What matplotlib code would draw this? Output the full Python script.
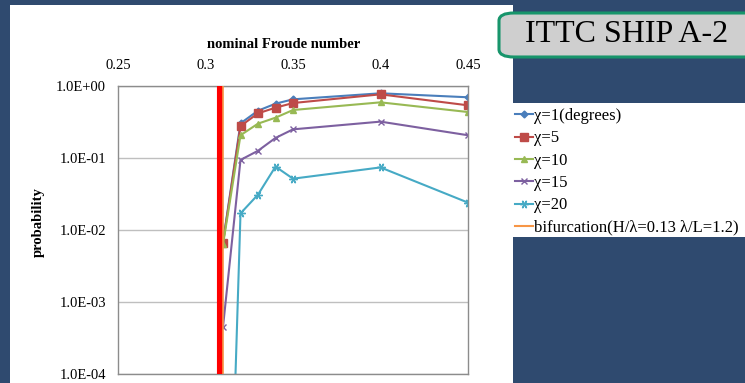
import matplotlib.pyplot as plt
import matplotlib.ticker as mticker
from matplotlib.patches import Rectangle, FancyBboxPatch
from matplotlib.lines import Line2D

# nominal Froude number
froude = [0.31, 0.32, 0.33, 0.34, 0.35, 0.40, 0.45]

# probability for each heading angle chi
chi_1 = [0.0068, 0.303, 0.454, 0.568, 0.653, 0.792, 0.697]
chi_5 = [0.0066, 0.278, 0.417, 0.500, 0.580, 0.766, 0.539]
chi_10 = [0.0063, 0.207, 0.300, 0.363, 0.464, 0.593, 0.435]
chi_15 = [0.00045, 0.094, 0.126, 0.190, 0.250, 0.320, 0.207]
chi_20 = [2.5e-10, 0.017, 0.031, 0.0759, 0.0516, 0.074, 0.024]

# bifurcation line
bif_x = [0.31, 0.31]
bif_y = [1.0e-4, 1.0]
critical_fr = 0.3083

y_ticks = [1e-4, 1e-3, 1e-2, 1e-1, 1e0]
x_ticks = [0.25, 0.3, 0.35, 0.4, 0.45]

labels = ['χ=1(degrees)', 'χ=5', 'χ=10', 'χ=15', 'χ=20',
          'bifurcation(H/λ=0.13 λ/L=1.2)']

plt.rcParams['font.family'] = ['Liberation Serif', 'DejaVu Serif']

W, H = 745, 383
bg = '#2F4A6F'
fig = plt.figure(figsize=(W / 100, H / 100), dpi=100, facecolor=bg)

# white panels of the slide
fig.patches.append(Rectangle((10 / W, 0), 503 / W, 1 - 5 / H, transform=fig.transFigure,
                             facecolor='white', edgecolor='none', zorder=-2))
fig.patches.append(Rectangle((513 / W, 1 - 237 / H), 232 / W, 134 / H, transform=fig.transFigure,
                             facecolor='white', edgecolor='none', zorder=-2))

# title box
fig.patches.append(FancyBboxPatch((499 / W, 1 - 57 / H), 270 / W, 44 / H,
                                  boxstyle='round,pad=0,rounding_size=0.02',
                                  transform=fig.transFigure, facecolor='#CFCFCF',
                                  edgecolor='#17956B', linewidth=2.2, zorder=-1))
fig.text(627 / W, 1 - 35 / H, 'ITTC SHIP A-2', fontsize=23, ha='center', va='center', zorder=2)

ax = fig.add_axes([118 / W, 1 - 374 / H, 350 / W, 288 / H], zorder=2)
ax.set_facecolor('white')
ax.set_yscale('log')

ax.axvline(critical_fr, color='#FF0000', linewidth=4.4, zorder=3)
ax.plot(froude, chi_1, color='#4A7EBB', marker='D', markersize=3.5, linewidth=1.5, label=labels[0])
ax.plot(froude, chi_5, color='#BE4B48', marker='s', markersize=5.5, linewidth=1.5, label=labels[1])
ax.plot(froude, chi_10, color='#98B954', marker='^', markersize=5, linewidth=1.5, label=labels[2])
ax.plot(froude, chi_15, color='#7D60A0', marker='x', markersize=5, markeredgewidth=1, linewidth=1.5, label=labels[3])
ax.plot(froude, chi_20, color='#46AAC5', marker=(6, 2, 90), markersize=6, markeredgewidth=1, linewidth=1.5, label=labels[4])
ax.plot(bif_x, bif_y, color='#F79646', linewidth=1.2, label=labels[5], zorder=4)

ax.set_xlim(0.25, 0.45)
ax.set_ylim(1e-4, 1)
ax.xaxis.tick_top()
ax.set_xticks(x_ticks)
ax.set_xticklabels(['0.25', '0.3', '0.35', '0.4', '0.45'])
ax.yaxis.set_major_locator(mticker.FixedLocator(y_ticks))
ax.yaxis.set_minor_locator(mticker.NullLocator())
ax.yaxis.set_major_formatter(mticker.FuncFormatter(lambda v, p: f'{v:.1E}'))
ax.tick_params(axis='x', length=0, pad=10, labelsize=10.5)
ax.tick_params(axis='y', length=0, pad=8.5, labelsize=10.5)
ax.grid(axis='y', color='#BFBFBF', linewidth=1)
for s in ax.spines.values():
    s.set_color('#8C8C8C')
    s.set_linewidth(1)

fig.text(284 / W, 1 - 45 / H, 'nominal Froude number', fontsize=10.5, fontweight='bold',
         ha='center', va='center')
fig.text(38 / W, 1 - 222 / H, 'probability', fontsize=10.5, fontweight='bold',
         rotation=90, ha='center', va='center')

handles, lbls = ax.get_legend_handles_labels()
handles = handles[:5] + [Line2D([], [], color='#F79646', linewidth=1.5)]
leg = fig.legend(handles, lbls, loc='upper left', bbox_to_anchor=(515 / W, 1 - 108 / H),
                 frameon=False, fontsize=12, handlelength=1.05, handletextpad=0.1,
                 labelspacing=0.38, borderpad=0, borderaxespad=0)
leg.set_zorder(3)

plt.savefig('out.png', dpi=100, facecolor=bg)
